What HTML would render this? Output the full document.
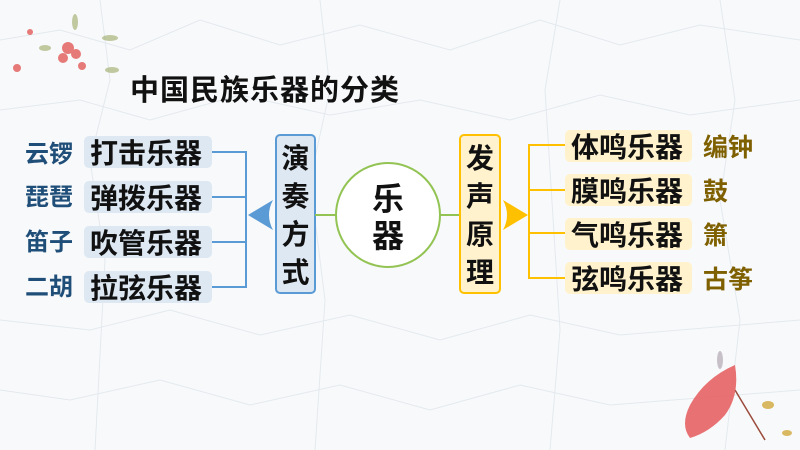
<!DOCTYPE html>
<html><head><meta charset="utf-8"><style>
body{margin:0}
svg{display:block}
text{font-family:"Liberation Sans","Noto Sans CJK SC",sans-serif;font-weight:bold}
</style></head><body>
<svg width="800" height="450" viewBox="0 0 800 450" xmlns="http://www.w3.org/2000/svg">
<rect width="800" height="450" fill="#f8f9fa"/>
<g stroke="#e4e9ef" stroke-width="1" fill="none">
<path d="M0 40 L60 30 L130 50 L200 20 L280 45 L360 25 L450 50 L540 20 L620 45 L700 25 L800 40"/>
<path d="M0 110 L80 100 L150 120 L240 95 L330 115 L420 100 L510 120 L600 95 L690 115 L800 100"/>
<path d="M0 320 L90 330 L170 310 L260 335 L350 315 L440 340 L530 315 L620 335 L800 320"/>
<path d="M0 390 L70 400 L160 380 L250 405 L340 385 L430 410 L520 385 L610 405 L800 390"/>
<path d="M100 0 L110 80 L90 160 L105 260 L95 450"/>
<path d="M320 0 L330 90 L310 180 L325 300 L315 450"/>
<path d="M560 0 L545 90 L560 330 L550 450"/>
<path d="M720 0 L735 100 L720 200 L740 320 L725 450"/>
</g>
<g fill="#e0504e" opacity="0.75">
<circle cx="68" cy="48" r="6"/><circle cx="76" cy="54" r="5"/><circle cx="63" cy="58" r="5"/><circle cx="82" cy="66" r="4"/><circle cx="17" cy="68" r="4"/><circle cx="30" cy="32" r="3"/>
</g>
<g fill="#9aa864" opacity="0.6"><ellipse cx="110" cy="38" rx="8" ry="3"/><ellipse cx="75" cy="22" rx="3" ry="8"/><ellipse cx="45" cy="48" rx="6" ry="3"/><ellipse cx="112" cy="70" rx="7" ry="3"/></g>
<!-- umbrella -->
<path d="M735 390 L765 440" stroke="#9a4a3a" stroke-width="1.5"/>
<path d="M735 365 Q740 395 725 415 Q710 432 690 438 Q680 425 690 405 Q705 378 735 365 Z" fill="#e55a5a" opacity="0.85"/>
<ellipse cx="720" cy="360" rx="3" ry="9" fill="#c8c0c8"/>
<ellipse cx="768" cy="405" rx="6" ry="4" fill="#d8b860"/>
<ellipse cx="787" cy="433" rx="5" ry="3" fill="#d8b860"/>

<text x="130" y="100" font-size="29" letter-spacing="1" fill="#111">中国民族乐器的分类</text>

<g stroke="#5b9bd5" stroke-width="2" fill="none">
<path d="M212 152 H246 V287 H212"/>
<path d="M212 197 H246"/><path d="M212 242 H246"/>
</g>
<path d="M248 215 L273 200 Q265 215 273 230 Z" fill="#5b9bd5"/>
<g fill="#dde8f3">
<rect x="84" y="136" width="128" height="32" rx="5"/>
<rect x="84" y="181" width="128" height="32" rx="5"/>
<rect x="84" y="226" width="128" height="32" rx="5"/>
<rect x="84" y="271" width="128" height="32" rx="5"/>
</g>
<g font-size="28" fill="#111">
<text x="90" y="163">打击乐器</text>
<text x="90" y="208">弹拨乐器</text>
<text x="90" y="253">吹管乐器</text>
<text x="90" y="298">拉弦乐器</text>
</g>
<g font-size="24" fill="#1f4e79">
<text x="25" y="162">云锣</text>
<text x="25" y="205">琵琶</text>
<text x="25" y="250">笛子</text>
<text x="25" y="295">二胡</text>
</g>
<rect x="276" y="135" width="39" height="158" rx="4" fill="#dde8f3" stroke="#5b9bd5" stroke-width="2"/>
<g font-size="28" fill="#111" text-anchor="middle">
<text x="295.5" y="168">演</text><text x="295.5" y="206">奏</text><text x="295.5" y="244">方</text><text x="295.5" y="282">式</text>
</g>

<path d="M315 215 H336 M440 215 H460" stroke="#92c353" stroke-width="2"/>
<circle cx="388" cy="215" r="52" fill="#fff" stroke="#92c353" stroke-width="2"/>
<g font-size="32" fill="#111" text-anchor="middle"><text x="388" y="210">乐</text><text x="388" y="247">器</text></g>

<rect x="460" y="135" width="40" height="158" rx="4" fill="#fff2cc" stroke="#ffc000" stroke-width="2"/>
<g font-size="28" fill="#111" text-anchor="middle">
<text x="480" y="168">发</text><text x="480" y="206">声</text><text x="480" y="244">原</text><text x="480" y="282">理</text>
</g>
<path d="M528 215 L503 200 Q511 215 503 230 Z" fill="#ffc000"/>
<g stroke="#ffc000" stroke-width="2" fill="none">
<path d="M565 145 H529 V278 H565"/><path d="M529 190 H565"/><path d="M529 233 H565"/>
</g>
<g fill="#fff2cc">
<rect x="565" y="130" width="127" height="32" rx="5"/>
<rect x="565" y="174" width="127" height="32" rx="5"/>
<rect x="565" y="218" width="127" height="32" rx="5"/>
<rect x="565" y="262" width="127" height="32" rx="5"/>
</g>
<g font-size="28" fill="#111">
<text x="571" y="157">体鸣乐器</text>
<text x="571" y="201">膜鸣乐器</text>
<text x="571" y="245">气鸣乐器</text>
<text x="571" y="289">弦鸣乐器</text>
</g>
<g font-size="25" fill="#7f6000">
<text x="703" y="156">编钟</text>
<text x="703" y="200">鼓</text>
<text x="703" y="244">箫</text>
<text x="703" y="288">古筝</text>
</g>
</svg>
</body></html>
